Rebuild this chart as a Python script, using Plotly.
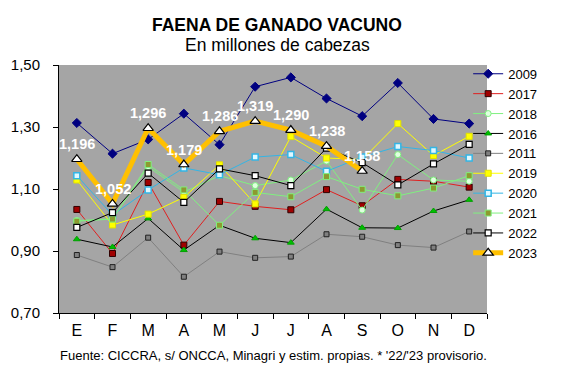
import plotly.graph_objects as go

months = ["E", "F", "M", "A", "M", "J", "J", "A", "S", "O", "N", "D"]

y2009 = [1.313, 1.214, 1.260, 1.343, 1.243, 1.430, 1.460, 1.392, 1.335, 1.442, 1.326, 1.311]
y2017 = [1.034, 0.892, 1.121, 0.919, 1.060, 1.044, 1.033, 1.098, 1.046, 1.131, 1.125, 1.106]
y2018 = [0.998, 1.004, 1.172, 1.090, 1.143, 1.111, 1.129, 1.190, 1.032, 1.211, 1.129, 1.125]
y2016 = [0.938, 0.913, 1.005, 0.903, 0.983, 0.941, 0.927, 1.035, 0.975, 0.974, 1.029, 1.065]
y2011 = [0.887, 0.848, 0.943, 0.817, 0.898, 0.878, 0.882, 0.954, 0.946, 0.919, 0.911, 0.963]
y2019 = [1.129, 0.984, 1.019, 1.073, 1.178, 1.052, 1.269, 1.200, 1.195, 1.311, 1.208, 1.270]
y2020 = [1.143, 1.016, 1.097, 1.168, 1.146, 1.203, 1.211, 1.157, 1.203, 1.237, 1.224, 1.200]
y2021 = [0.996, 1.003, 1.179, 1.097, 0.983, 1.089, 1.075, 1.140, 1.099, 1.078, 1.103, 1.143]
y2022 = [0.976, 1.024, 1.151, 1.057, 1.165, 1.143, 1.111, 1.232, 1.185, 1.113, 1.181, 1.244]
y2023 = [1.196, 1.052, 1.296, 1.179, 1.286, 1.319, 1.290, 1.238, 1.158, None, None, None]

yticks = [0.70, 0.90, 1.10, 1.30, 1.50]

FONT = "Liberation Sans, Arial, sans-serif"
xs = list(range(len(months)))

series = [
    ("2009", y2009, dict(color="#000080", width=1), dict(symbol="diamond", size=7, color="#000080", line=dict(color="#000080", width=1))),
    ("2017", y2017, dict(color="#E02020", width=1), dict(symbol="square", size=6, color="#A00000", line=dict(color="#300000", width=1))),
    ("2018", y2018, dict(color="#80F080", width=1), dict(symbol="circle", size=6, color="#E0FFE0", line=dict(color="#80F080", width=1))),
    ("2016", y2016, dict(color="#000000", width=1), dict(symbol="triangle-up", size=6, color="#00C000", line=dict(color="#00A000", width=1))),
    ("2011", y2011, dict(color="#808080", width=1), dict(symbol="square", size=5, color="#808080", line=dict(color="#202020", width=1))),
    ("2019", y2019, dict(color="#FFFF00", width=1), dict(symbol="square", size=6, color="#FFFF00", line=dict(color="#E0E000", width=1))),
    ("2020", y2020, dict(color="#33B5E5", width=1), dict(symbol="square", size=6, color="#E0F8FF", line=dict(color="#33B5E5", width=1.5))),
    ("2021", y2021, dict(color="#80F080", width=1), dict(symbol="square", size=6, color="#8C9A30", line=dict(color="#80F080", width=1))),
    ("2022", y2022, dict(color="#000000", width=1), dict(symbol="square", size=6, color="#FFFFFF", line=dict(color="#000000", width=1.2))),
]

fig = go.Figure()
for name, ys, ln, mk in series:
    fig.add_trace(go.Scatter(x=xs, y=ys, name=name, mode="lines+markers", line=ln, marker=mk))

fig.add_trace(go.Scatter(
    x=xs, y=y2023, name="2023", mode="lines+markers",
    line=dict(color="#FFC000", width=5),
    marker=dict(symbol="triangle-up", size=9, color="#FFFFFF", line=dict(color="#000000", width=1.2)),
))

annotations = [
    dict(text="<b>FAENA DE GANADO VACUNO</b>", xref="paper", yref="paper", x=0.51, y=1.0,
         yanchor="middle", yshift=40, showarrow=False, font=dict(family=FONT, size=17.5)),
    dict(text="En millones de cabezas", xref="paper", yref="paper", x=0.51, y=1.0,
         yanchor="middle", yshift=20, showarrow=False, font=dict(family=FONT, size=17.5)),
    dict(text="Fuente: CICCRA, s/ ONCCA, Minagri y estim. propias. * '22/'23 provisorio.",
         xref="paper", yref="paper", x=0.5, y=0, yanchor="middle", yshift=-42, showarrow=False,
         font=dict(family=FONT, size=13)),
]
for xi, v in zip(xs, y2023):
    if v is None:
        continue
    annotations.append(dict(
        x=xi, y=v, xref="x", yref="y", text="<b>" + f"{v:.3f}".replace(".", ",") + "</b>",
        showarrow=False, yanchor="middle", yshift=15,
        font=dict(family=FONT, size=14.5, color="#FFFFFF"),
    ))

fig.update_layout(
    width=583, height=391,
    margin=dict(l=59, r=96, t=65, b=78, autoexpand=False),
    paper_bgcolor="#FFFFFF", plot_bgcolor="#A5A5A5",
    separators=",.",
    font=dict(family=FONT, size=15, color="#000000"),
    showlegend=True,
    legend=dict(x=0.956, xanchor="left", y=1.025, yanchor="top", font=dict(family=FONT, size=13),
                tracegroupgap=0, itemwidth=30, bgcolor="rgba(0,0,0,0)", maxheight=400),
    annotations=annotations,
)

fig.update_xaxes(
    range=[-0.5, 11.5], tickvals=xs, ticktext=months, ticks="", showgrid=False, zeroline=False,
    showline=True, linecolor="#000000", linewidth=1, ticklabelstandoff=3,
    minor=dict(tick0=-0.5, dtick=1, ticks="outside", ticklen=5, tickcolor="#000000", showgrid=False),
    tickfont=dict(family=FONT, size=16),
)
fig.update_yaxes(
    range=[0.70, 1.50], tickvals=yticks, tickformat=".2f", ticks="outside", ticklen=5,
    ticklabelstandoff=10,
    tickcolor="#000000", showgrid=False, zeroline=False, showline=True, linecolor="#000000", linewidth=1,
    tickfont=dict(family=FONT, size=15),
)

fig.write_html("out.html", config={"displayModeBar": False},
               post_script="document.body.style.margin='0px';document.body.style.padding='0px';")
